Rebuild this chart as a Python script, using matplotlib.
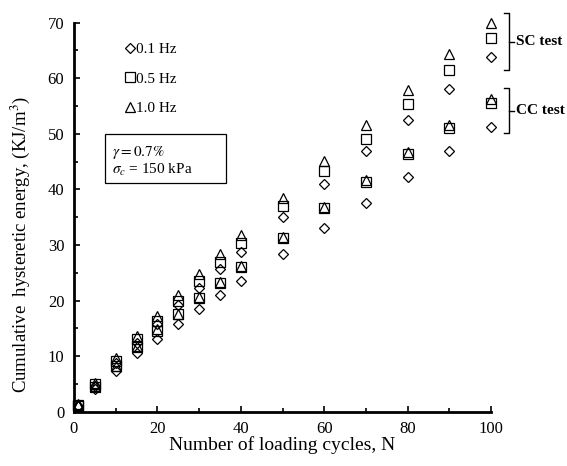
import matplotlib.pyplot as plt
from matplotlib.ticker import MultipleLocator
from matplotlib.patches import Rectangle

plt.rcParams['font.family'] = ['Liberation Serif', 'DejaVu Serif']
plt.rcParams['mathtext.fontset'] = 'stix'

cycles = [1, 5, 10, 15, 20, 25, 30, 35, 40, 50, 60, 70, 80, 90, 100]

# SC test
sc_01 = [1.1, 4.6, 8.7, 12.4, 15.8, 19.2, 22.3, 25.6, 28.8, 35.0, 41.0, 46.9, 52.5, 58.1, 63.8]
sc_05 = [1.2, 4.9, 9.2, 13.0, 16.4, 20.0, 23.6, 27.0, 30.4, 37.0, 43.3, 49.1, 55.3, 61.4, 67.2]
sc_10 = [1.3, 5.2, 9.6, 13.6, 17.3, 21.0, 24.8, 28.3, 31.8, 38.4, 45.1, 51.6, 57.9, 64.3, 70.0]

# CC test
cc_01 = [1.0, 4.1, 7.4, 10.5, 13.1, 15.8, 18.5, 21.0, 23.5, 28.3, 33.1, 37.6, 42.2, 46.9, 51.2]
cc_05 = [1.1, 4.5, 8.2, 11.6, 14.6, 17.5, 20.5, 23.1, 26.1, 31.3, 36.6, 41.4, 46.3, 51.0, 55.5]
cc_10 = [1.2, 4.6, 8.3, 11.8, 14.8, 17.6, 20.6, 23.3, 26.3, 31.5, 36.8, 41.6, 46.7, 51.5, 56.2]

fig = plt.figure(figsize=(5.67, 4.66), dpi=100)
ax = fig.add_axes([0.1305, 0.1165, 0.7355, 0.835])

kw = dict(linestyle='none', markerfacecolor='none', markeredgecolor='black',
          markeredgewidth=0.9, clip_on=False)
h1, = ax.plot(cycles, sc_01, marker='D', markersize=4.6, label='0.1 Hz', **kw)
h2, = ax.plot(cycles, sc_05, marker='s', markersize=6.5, label='0.5 Hz', **kw)
h3, = ax.plot(cycles, sc_10, marker='^', markersize=6.5, label='1.0 Hz', **kw)
ax.plot(cycles, cc_01, marker='D', markersize=4.6, **kw)
ax.plot(cycles, cc_05, marker='s', markersize=6.5, **kw)
ax.plot(cycles, cc_10, marker='^', markersize=6.5, **kw)

ax.set_xlim(0, 100)
ax.set_ylim(0, 70)
ax.xaxis.set_major_locator(MultipleLocator(20))
ax.xaxis.set_minor_locator(MultipleLocator(10))
ax.yaxis.set_major_locator(MultipleLocator(10))
ax.yaxis.set_minor_locator(MultipleLocator(5))
ax.tick_params(which='both', direction='in', labelsize=12, width=1.2, pad=7)
ax.tick_params(which='major', length=4)
ax.tick_params(which='minor', length=3)
ax.spines['top'].set_visible(False)
ax.spines['right'].set_visible(False)
ax.spines['left'].set_linewidth(2)
ax.spines['bottom'].set_linewidth(2)

ax.set_xlabel('Number of loading cycles, N', fontsize=14, labelpad=-1)
ax.set_ylabel('Cumulative  hysteretic energy, (KJ/m$^3$)', fontsize=13.5)
ax.yaxis.set_label_coords(-0.1, 0.43)

ax.legend(handles=[h1, h2, h3], loc='upper left', bbox_to_anchor=(0.104, 0.965),
          frameon=False, fontsize=11, handlelength=0.8, handletextpad=0.0,
          labelspacing=1.05, borderaxespad=0)

ax.add_patch(Rectangle((0.0743, 0.588), 0.29, 0.126, transform=ax.transAxes,
                       facecolor='white', edgecolor='black', linewidth=0.9))
ax.text(0.092, 0.667, '$\\gamma = 0.7\\%$', transform=ax.transAxes,
        fontsize=11, va='center', ha='left')
ax.text(0.092, 0.622, '$\\sigma_c$ = 150 kPa', transform=ax.transAxes,
        fontsize=11, va='center', ha='left')

# brackets
def bracket(y0, y1, label):
    ax.plot([103.2, 104.4, 104.4, 103.2], [y1, y1, y0, y0], color='black', lw=1, clip_on=False)
    ym = (y0 + y1) / 2
    ax.plot([104.4, 105.4], [ym, ym], color='black', lw=1, clip_on=False)
    ax.text(105.9, ym, label, fontsize=11, fontweight='bold', va='center', ha='left')

bracket(61.4, 71.7, 'SC test')
bracket(50.1, 58.2, 'CC test')

fig.savefig('out.png', dpi=100)
